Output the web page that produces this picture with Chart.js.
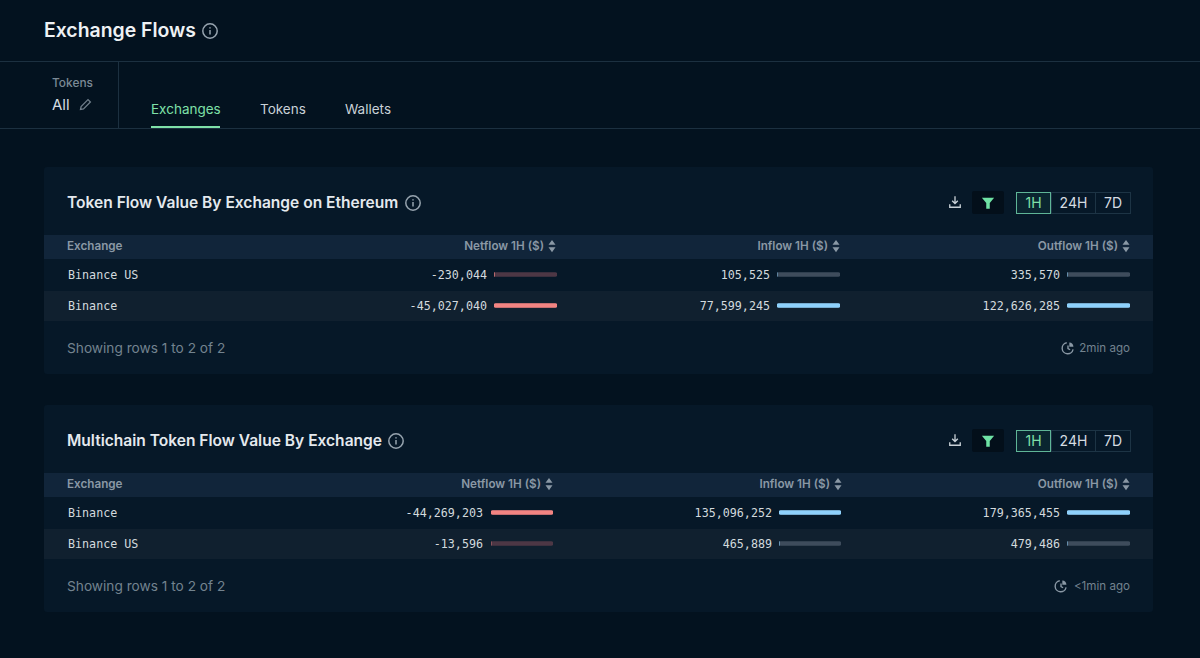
<!DOCTYPE html>
<html>
<head>
<meta charset="utf-8">
<title>Exchange Flows</title>
<script src="https://cdn.jsdelivr.net/npm/chart.js@4"></script>
<style>
html, body { margin: 0; padding: 0; width: 1200px; height: 658px; overflow: hidden; background: #03121f; font-family: Inter, "Noto Sans", sans-serif; color: #e6ebef; }
.abs { position: absolute; white-space: nowrap; line-height: 1; }
.line { position: absolute; background: #1c3040; }
.card { position: absolute; left: 44px; width: 1109px; height: 207px; background: #061828; border-radius: 3px; }
.card-title { left: 23px; top: 28px; font-size: 15.55px; font-weight: 600; color: #e4e9ee; }
.head-row { position: absolute; left: 0; top: 68px; width: 1109px; height: 24px; background: #11253a; }
.alt-row { position: absolute; left: 0; top: 124px; width: 1109px; height: 30px; background: #10202f; }
.head { font-size: 11.7px; font-weight: 600; color: #8a98a5; }
.name, .num { font-family: "DejaVu Sans Mono", monospace; font-size: 11.7px; color: #d3dade; }
.foot { left: 23px; top: 175px; font-size: 13.7px; color: #73838f; }
.ago { font-size: 11.6px; color: #73838f; }
.filter { position: absolute; left: 928px; top: 24px; width: 32px; height: 23px; background: #030f1a; border-radius: 2px; }
.btn { position: absolute; top: 25px; height: 22px; box-sizing: border-box; border: 1px solid #1d3445; font-size: 14px; line-height: 20px; text-align: center; color: #d5dce1; }
.btn.on { border-color: #5fb597; color: #7fe0a8; background: #0a2530; z-index: 1; }
.mini { position: absolute; height: 62px; }
svg { position: absolute; overflow: visible; }
</style>
</head>
<body>
<div class="abs" style="left:44px;top:21px;font-size:19.4px;font-weight:600;color:#eef1f4">Exchange Flows</div>
<svg style="left:202px;top:23px" width="16" height="16" viewBox="0 0 16 16" fill="none" stroke="#97a4af" stroke-width="1.5"><circle cx="8" cy="8" r="7.2"/><path d="M8 7v4.5M8 4.2v1.3"/></svg>
<div class="line" style="left:0;top:61px;width:1200px;height:1px"></div>
<div class="line" style="left:0;top:128px;width:1200px;height:1px"></div>
<div class="line" style="left:118px;top:61px;width:1px;height:67px"></div>
<div class="abs" style="left:52px;top:77px;font-size:11.9px;font-weight:500;color:#7b8995">Tokens</div>
<div class="abs" style="left:52px;top:97px;font-size:15px;color:#d5dce1">All</div>
<svg style="left:79px;top:98px" width="13" height="13" viewBox="0 0 13 13" fill="none" stroke="#6f7d89" stroke-width="1.3"><path d="M1.5 11.5l.6-3L9 1.6l2.4 2.4-6.9 6.9z"/></svg>
<div class="abs" style="left:151px;top:103px;font-size:13.5px;color:#7fe0a8">Exchanges</div>
<div class="abs" style="left:260px;top:103px;font-size:13.5px;color:#c9d1d7">Tokens</div>
<div class="abs" style="left:345px;top:103px;font-size:13.5px;color:#c9d1d7">Wallets</div>
<div style="position:absolute;left:151px;top:126px;width:69px;height:2px;background:#7fe0a8"></div>

<script>
Chart.defaults.animation = false;

// first table
const ethExchanges = ["Binance US", "Binance"];
const ethNetflow = [-230044, -45027040];
const ethInflow = [105525, 77599245];
const ethOutflow = [335570, 122626285];

// second table
const multiExchanges = ["Binance", "Binance US"];
const multiNetflow = [-44269203, -13596];
const multiInflow = [135096252, 465889];
const multiOutflow = [179365455, 479486];

const columnLabels = ["Netflow 1H ($)", "Inflow 1H ($)", "Outflow 1H ($)"];
const periods = ["1H", "24H", "7D"];

const RED = "#f28482";
const RED_TRACK = "#4d3745";
const BLUE = "#8ed1fc";
const GRAY_TRACK = "#3e4c5c";

function addText(parent, cls, text, style) {
    const el = document.createElement("div");
    el.className = "abs " + cls;
    el.textContent = text;
    el.style.cssText = style;
    parent.appendChild(el);
    return el;
}

function addSvg(parent, left, top, size, body) {
    parent.insertAdjacentHTML("beforeend",
        `<svg style="left:${left}px;top:${top}px" width="${size}" height="${size}" viewBox="0 0 16 16" fill="none">${body}</svg>`);
}

// one canvas per column, one bar per row, drawn over a full width track
function drawBars(parent, left, width, top, names, values, color, trackColor) {
    const holder = document.createElement("div");
    holder.className = "mini";
    holder.style.left = left + "px";
    holder.style.top = top + "px";
    holder.style.width = width + "px";
    const canvas = document.createElement("canvas");
    holder.appendChild(canvas);
    parent.appendChild(holder);

    const sizes = values.map(v => Math.abs(v));
    const biggest = Math.max(...sizes);

    new Chart(canvas.getContext("2d"), {
        type: "bar",
        data: {
            labels: names,
            datasets: [
                { data: sizes, backgroundColor: color, barThickness: 4, borderRadius: 2, borderSkipped: false, order: 1 },
                { data: names.map(() => biggest), backgroundColor: trackColor, barThickness: 4, borderRadius: 2, borderSkipped: false, order: 2 }
            ]
        },
        options: {
            indexAxis: "y",
            responsive: true,
            maintainAspectRatio: false,
            datasets: { bar: { grouped: false } },
            layout: { padding: 0 },
            plugins: { legend: { display: false }, tooltip: { enabled: false } },
            scales: {
                x: { display: false, min: 0, max: biggest },
                y: { display: false }
            }
        }
    });
}

function addCard(cfg) {
    const card = document.createElement("div");
    card.className = "card";
    card.style.top = cfg.top + "px";
    document.body.appendChild(card);

    addText(card, "card-title", cfg.title, "");
    addSvg(card, cfg.infoX, 28, 16, '<circle cx="8" cy="8" r="7.2" stroke="#97a4af" stroke-width="1.5"/><path d="M8 7v4.5M8 4.2v1.3" stroke="#97a4af" stroke-width="1.5"/>');

    // download icon, filter, period buttons
    addSvg(card, 904, 28, 14, '<path d="M8 1.5v8M4.8 6.5L8 9.8l3.2-3.3M2 10.5v3.5h12v-3.5" stroke="#c9d1d7" stroke-width="1.5"/>');
    const filter = document.createElement("div");
    filter.className = "filter";
    card.appendChild(filter);
    addSvg(card, 937, 29, 14, '<path d="M1 2h14l-5 6v6.5H6V8z" fill="#6fe3a5"/>');
    const btnX = [972, 1007, 1051];
    const btnW = [35, 45, 36];
    periods.forEach((p, i) => {
        const b = document.createElement("div");
        b.className = "btn" + (i === 0 ? " on" : "");
        b.style.left = btnX[i] + "px";
        b.style.width = btnW[i] + "px";
        b.textContent = p;
        card.appendChild(b);
    });

    const head = document.createElement("div");
    head.className = "head-row";
    card.appendChild(head);
    const alt = document.createElement("div");
    alt.className = "alt-row";
    card.appendChild(alt);

    addText(card, "head", "Exchange", "left:23px;top:74px");
    cfg.columns.forEach((col, c) => {
        addText(card, "head", columnLabels[c], `right:${1109 - col.headEnd}px;top:74px`);
        addSvg(card, col.headEnd + 1, 72, 14, '<path d="M8 1l4 5.5H4zM8 15l4-5.5H4z" fill="#8a98a5"/>');
        col.values.forEach((v, r) => {
            addText(card, "num", v.toLocaleString("en-US"), `right:${1109 - col.numEnd}px;top:${103 + r * 31}px`);
        });
        drawBars(card, col.barX, col.barW, 92, cfg.names, col.values, c === 0 ? RED : BLUE, c === 0 ? RED_TRACK : GRAY_TRACK);
    });
    cfg.names.forEach((n, r) => addText(card, "name", n, `left:24px;top:${103 + r * 31}px`));

    addText(card, "foot", "Showing rows 1 to 2 of 2", "");
    addSvg(card, cfg.agoX, 174, 14, '<path d="M13.8 9.5A6.3 6.3 0 1 1 6.6 2M8 5v3.6l2.4 1.4" stroke="#8a98a5" stroke-width="1.6"/><path d="M9.5 1.8a5 5 0 0 1 4.7 4.7H9.5z" fill="#8a98a5"/>');
    addText(card, "ago", cfg.ago, "right:23px;top:176px");
}

addCard({
    top: 167,
    title: "Token Flow Value By Exchange on Ethereum",
    infoX: 361,
    names: ethExchanges,
    ago: "2min ago",
    agoX: 1017,
    columns: [
        { values: ethNetflow, headEnd: 500, numEnd: 443, barX: 450, barW: 63 },
        { values: ethInflow, headEnd: 784, numEnd: 726, barX: 733, barW: 63 },
        { values: ethOutflow, headEnd: 1074, numEnd: 1016, barX: 1023, barW: 63 }
    ]
});

addCard({
    top: 405,
    title: "Multichain Token Flow Value By Exchange",
    infoX: 344,
    names: multiExchanges,
    ago: "<1min ago",
    agoX: 1010,
    columns: [
        { values: multiNetflow, headEnd: 497, numEnd: 439, barX: 447, barW: 62 },
        { values: multiInflow, headEnd: 786, numEnd: 728, barX: 735, barW: 62 },
        { values: multiOutflow, headEnd: 1074, numEnd: 1016, barX: 1023, barW: 63 }
    ]
});
</script>
</body>
</html>
